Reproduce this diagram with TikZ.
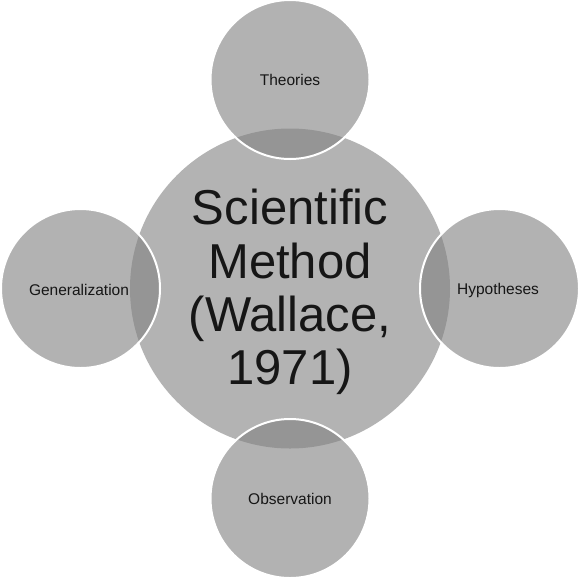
\documentclass[tikz,border=0pt]{standalone}
\usepackage{fontspec}
\setmainfont{Liberation Sans}
\begin{document}
\begin{tikzpicture}[x=1pt,y=-1pt]
\definecolor{basegray}{RGB}{179,179,179}
\definecolor{overgray}{RGB}{132,132,132}
\definecolor{textc}{RGB}{22,22,22}
\tikzset{
  bigc/.style={circle, fill=basegray, minimum size=320pt, inner sep=0pt},
  bigtext/.style={text=textc, font=\fontsize{49}{53.3}\selectfont, align=center, inner sep=0pt},
  smallc/.style={circle, fill=overgray, fill opacity=0.618, draw=white, draw opacity=1,
    line width=2pt, minimum size=159pt, inner sep=0pt},
  smalltext/.style={text=textc, font=\fontsize{15.5}{18}\selectfont, inner sep=0pt, anchor=base}
}
\fill[white] (0,0) rectangle (580,579);
\useasboundingbox (0,0) rectangle (580,579);
\node[bigc] (center) at (290,288.5) {};
\node[smallc] (top) at (290,79.5) {};
\node[smallc] (left) at (80.5,288.5) {};
\node[smallc] (right) at (499.5,288.5) {};
\node[smallc] (bottom) at (290,498.5) {};
\node[bigtext] (title) at (290,292) {Scientific\\Method\\(Wallace,\\1971)};
\node[smalltext] (ttop) at (290,85) {Theories};
\node[smalltext] (tleft) at (79,295) {Generalization};
\node[smalltext] (tright) at (498,294.5) {Hypotheses};
\node[smalltext] (tbottom) at (290,504.3) {Observation};
\end{tikzpicture}
\end{document}
